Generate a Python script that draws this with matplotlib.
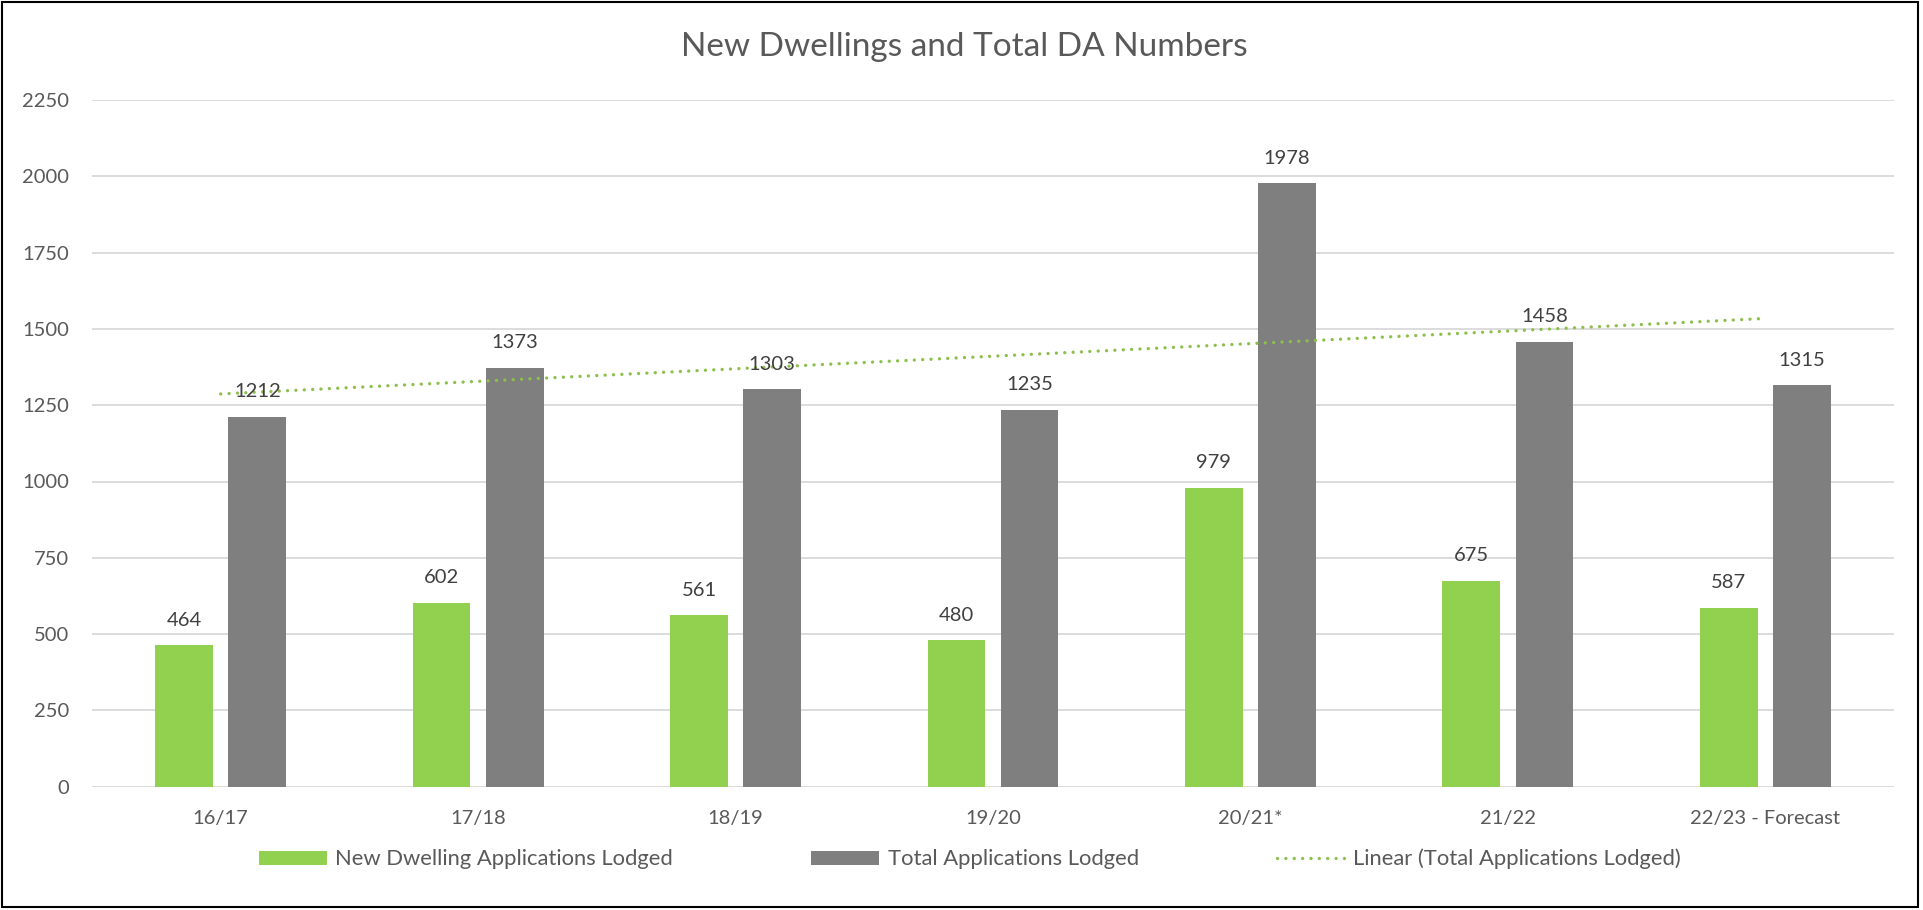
import matplotlib
matplotlib.use("Agg")
import matplotlib.pyplot as plt
import numpy as np
from matplotlib.patches import Rectangle
from matplotlib.lines import Line2D
from matplotlib.patches import Patch

categories = ["16/17", "17/18", "18/19", "19/20", "20/21*", "21/22", "22/23 - Forecast"]
new_dwellings = [464, 602, 561, 480, 979, 675, 587]
total_apps = [1212, 1373, 1303, 1235, 1978, 1458, 1315]
yticks = [0, 250, 500, 750, 1000, 1250, 1500, 1750, 2000, 2250]

title = "New Dwellings and Total DA Numbers"
legend_labels = ["New Dwelling Applications Lodged", "Total Applications Lodged",
                 "Linear (Total Applications Lodged)"]

GREEN = "#92D050"
GRAY = "#7F7F7F"
TREND = "#8CC04B"
TXT = "#595959"
LBL = "#404040"

plt.rcParams['font.family'] = ['Lato', 'DejaVu Sans']

W, H = 1924, 910
fig = plt.figure(figsize=(W / 100, H / 100), dpi=100)
ax = fig.add_axes([92 / W, 1 - 786.7 / H, (1894 - 92) / W, (786.7 - 100) / H])

x = np.arange(len(categories))
bw = 0.224
off = 0.142
b1 = ax.bar(x - off, new_dwellings, width=bw, color=GREEN, zorder=3)
b2 = ax.bar(x + off, total_apps, width=bw, color=GRAY, zorder=3)

for rect, v in zip(b1, new_dwellings):
    ax.annotate(str(v), (rect.get_x() + rect.get_width() / 2, v), xytext=(0, 18),
                textcoords="offset points", ha="center", va="center",
                fontsize=14.5, color=LBL, zorder=5)
for rect, v in zip(b2, total_apps):
    ax.annotate(str(v), (rect.get_x() + rect.get_width() / 2, v), xytext=(0, 18),
                textcoords="offset points", ha="center", va="center",
                fontsize=14.5, color=LBL, zorder=5)

# linear trendline of total applications
dots = (0, (0.01, 2.5))
coef = np.polyfit(x + 1, total_apps, 1)
trend = np.polyval(coef, x + 1)
ax.plot(x, trend, color=TREND, lw=2.4, linestyle=dots,
        dash_capstyle="round", zorder=4)

ax.set_xlim(-0.5, len(categories) - 0.5)
ax.set_ylim(0, 2250)
ax.set_yticks(yticks)
ax.set_xticks(x)
ax.set_xticklabels(categories)
ax.tick_params(axis="both", length=0, labelsize=14.5, colors=TXT)
ax.tick_params(axis="y", pad=16.5)
ax.tick_params(axis="x", pad=16.5)
ax.grid(axis="y", color="#D9D9D9", lw=1.3, zorder=0)
for s in ax.spines.values():
    s.set_visible(False)

fig.text(964 / W, 1 - 47 / H, title, ha="center", va="center", fontsize=24, color=TXT)

handles = [Patch(facecolor=GREEN), Patch(facecolor=GRAY),
           Line2D([0], [0], color=TREND, lw=2.4, linestyle=dots, dash_capstyle="round")]
fig.legend(handles, legend_labels, loc="center", bbox_to_anchor=(970 / W, 1 - 859 / H),
           ncol=3, frameon=False, fontsize=15.8, labelcolor=TXT,
           handlelength=3.1, handleheight=0.6, handletextpad=0.37, columnspacing=6.3)

fig.patches.append(Rectangle((2 / W, 3 / H), 1916 / W, 905 / H, transform=fig.transFigure,
                             fill=False, edgecolor="black", lw=1.5))

fig.savefig("out.png", dpi=100)
